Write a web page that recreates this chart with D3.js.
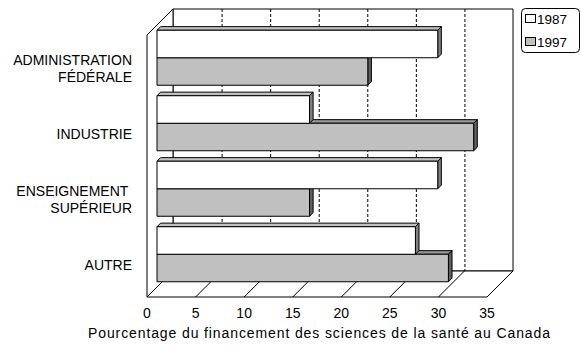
<!DOCTYPE html>
<html>
<head>
<meta charset="utf-8">
<script src="https://cdn.jsdelivr.net/npm/d3@7"></script>
<style>
  html, body { margin: 0; padding: 0; background: #fff; }
  svg { display: block; font-family: "Liberation Sans", Arial, sans-serif; }
</style>
</head>
<body>
<svg id="chart" width="581" height="345"></svg>
<script>
// Health-science funding shares in Canada, by sector (%)
const categories = [["ADMINISTRATION", "FÉDÉRALE"], ["INDUSTRIE"], ["ENSEIGNEMENT ", "SUPÉRIEUR"], ["AUTRE"]];
const seriesNames = ["1987", "1997"];
const values1987 = [28.9, 15.7, 28.9, 26.6];
const values1997 = [21.7, 32.6, 15.7, 30.0];
const tickValues = [0, 5, 10, 15, 20, 25, 30, 35];
const axisTitle = "Pourcentage du financement des sciences de la santé au Canada";

const svg = d3.select("#chart");

// 3D box geometry: front plane, depth offset, bar placement within depth
const frontLeft = 147, frontRight = 487, frontTop = 35, frontBottom = 297;
const depth = 26;         // wall depth (projected dx = -dy)
const barDepth0 = 10;     // front face of the bars
const barThick = 3.6;     // bar depth

const x = d3.scaleLinear().domain([0, 35]).range([frontLeft, frontRight]);
const catKeys = categories.map((c, i) => i);
const y = d3.scaleBand().domain(catKeys).range([frontTop, frontBottom])
  .paddingInner(0.16).paddingOuter(0.08);
const ySeries = d3.scaleBand().domain(seriesNames).range([0, y.bandwidth()]);

// projection: value-space point (px, py) at depth d → screen
const P = (px, py, d) => [px + d, py - d];
const poly = pts => "M" + pts.map(p => p.join(",")).join("L") + "Z";

const g = svg.append("g");

// back wall
const bw = [P(frontLeft, frontTop, depth), P(frontRight, frontTop, depth),
            P(frontRight, frontBottom, depth), P(frontLeft, frontBottom, depth)];
g.append("path").attr("d", poly(bw)).attr("fill", "#fff").attr("stroke", "#000").attr("stroke-width", 1);

// left wall
const lw = [P(frontLeft, frontTop, 0), P(frontLeft, frontTop, depth),
            P(frontLeft, frontBottom, depth), P(frontLeft, frontBottom, 0)];
g.append("path").attr("d", poly(lw)).attr("fill", "#fff").attr("stroke", "#000").attr("stroke-width", 1);

// floor
const fl = [P(frontLeft, frontBottom, 0), P(frontLeft, frontBottom, depth),
            P(frontRight, frontBottom, depth), P(frontRight, frontBottom, 0)];
g.append("path").attr("d", poly(fl)).attr("fill", "#fff").attr("stroke", "#000").attr("stroke-width", 1);

// dashed gridlines on the back wall
g.selectAll("line.grid").data(tickValues.filter(t => t > 0 && t < 35)).join("line")
  .attr("class", "grid")
  .attr("x1", t => P(x(t), frontTop, depth)[0] + 0.5)
  .attr("x2", t => P(x(t), frontBottom, depth)[0] + 0.5)
  .attr("y1", P(0, frontTop, depth)[1])
  .attr("y2", P(0, frontBottom, depth)[1])
  .attr("stroke", "#000").attr("stroke-width", 1).attr("stroke-dasharray", "3,2");

// tick lines across the floor
g.selectAll("line.floor").data(tickValues.filter(t => t > 0 && t < 35)).join("line")
  .attr("class", "floor")
  .attr("x1", t => P(x(t), frontBottom, 0)[0])
  .attr("y1", t => P(x(t), frontBottom, 0)[1])
  .attr("x2", t => P(x(t), frontBottom, depth)[0])
  .attr("y2", t => P(x(t), frontBottom, depth)[1])
  .attr("stroke", "#000").attr("stroke-width", 1);

// bars: front, top and side faces
const styles = {
  "1987": { front: "#ffffff", top: "#c0c0c0", side: "#808080" },
  "1997": { front: "#c0c0c0", top: "#969696", side: "#606060" }
};
const barData = [];
categories.forEach((c, i) => {
  // later series drawn first so the upper bar covers its top face
  barData.push({ cat: i, s: "1997", v: values1997[i] });
  barData.push({ cat: i, s: "1987", v: values1987[i] });
});

const bars = g.selectAll("g.bar").data(barData).join("g").attr("class", "bar");
bars.each(function(d) {
  const sel = d3.select(this);
  const x0 = x(0), x1 = x(d.v);
  const y0 = y(d.cat) + ySeries(d.s), y1 = y0 + ySeries.bandwidth();
  const d0 = barDepth0, d1 = barDepth0 + barThick;
  const st = styles[d.s];
  // top face
  sel.append("path")
    .attr("d", poly([P(x0, y0, d0), P(x0, y0, d1), P(x1, y0, d1), P(x1, y0, d0)]))
    .attr("fill", st.top).attr("stroke", "#000").attr("stroke-width", 1).attr("stroke-linejoin", "round");
  // side face
  sel.append("path")
    .attr("d", poly([P(x1, y0, d0), P(x1, y0, d1), P(x1, y1, d1), P(x1, y1, d0)]))
    .attr("fill", st.side).attr("stroke", "#000").attr("stroke-width", 1).attr("stroke-linejoin", "round");
  // front face
  sel.append("path")
    .attr("d", poly([P(x0, y0, d0), P(x1, y0, d0), P(x1, y1, d0), P(x0, y1, d0)]))
    .attr("fill", st.front).attr("stroke", "#000").attr("stroke-width", 1);
});

// value axis labels along the front edge of the floor
g.selectAll("text.tick").data(tickValues).join("text")
  .attr("class", "tick")
  .attr("x", t => x(t))
  .attr("y", 318)
  .attr("text-anchor", "middle")
  .attr("font-size", 14)
  .attr("fill", "#000")
  .text(t => t);

// category labels
const lineH = 17;
const catLabels = g.selectAll("text.cat").data(categories).join("text")
  .attr("class", "cat")
  .attr("text-anchor", "end")
  .attr("font-size", 14)
  .attr("fill", "#000");
catLabels.each(function(lines, i) {
  const cy = y(i) + y.bandwidth() / 2 + 1;
  const top = cy - (lines.length - 1) * lineH / 2;
  d3.select(this).selectAll("tspan").data(lines).join("tspan")
    .attr("x", 132)
    .attr("y", (l, k) => top + k * lineH + 5)
    .attr("xml:space", "preserve")
    .style("white-space", "pre")
    .text(l => l);
});

// axis title
g.append("text")
  .attr("x", 88)
  .attr("y", 338)
  .attr("font-size", 14)
  .attr("textLength", 462)
  .attr("lengthAdjust", "spacing")
  .attr("fill", "#000")
  .text(axisTitle);

// legend
const lg = svg.append("g");
lg.append("rect").attr("x", 521.5).attr("y", 8.5).attr("width", 58).attr("height", 44)
  .attr("rx", 4).attr("fill", "#fff").attr("stroke", "#000").attr("stroke-width", 1);
const items = lg.selectAll("g.item").data(seriesNames).join("g").attr("class", "item")
  .attr("transform", (s, i) => `translate(0,${i * 23})`);
items.append("rect").attr("x", 525.5).attr("y", 14.5).attr("width", 10).attr("height", 8)
  .attr("fill", s => styles[s].front).attr("stroke", "#000").attr("stroke-width", 1);
items.append("text").attr("x", 537).attr("y", 23.5).attr("font-size", 13.5).attr("fill", "#000")
  .text(s => s);
</script>
</body>
</html>
